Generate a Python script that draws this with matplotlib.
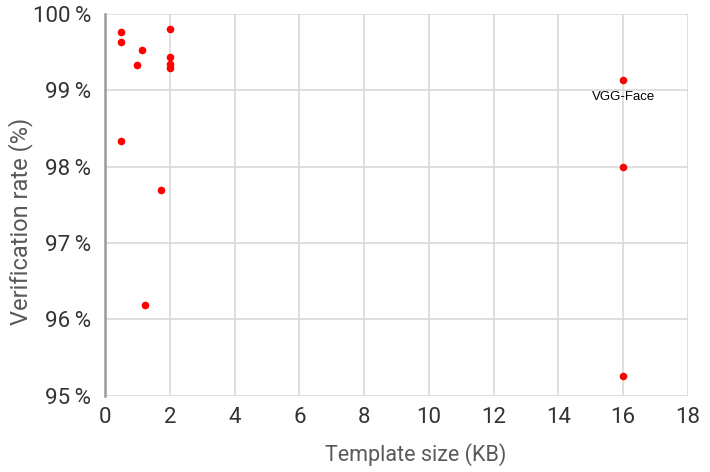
import matplotlib
matplotlib.use("Agg")
import matplotlib.pyplot as plt
from matplotlib.ticker import FuncFormatter

template_kb = [0.5, 0.5, 0.5, 1.0, 1.15, 2.0, 2.0, 2.0, 2.0, 1.73, 1.23, 16.0, 16.0, 16.0]
verification = [99.77, 99.63, 98.33, 99.33, 99.53, 99.80, 99.43, 99.35, 99.29, 97.69, 96.19, 99.13, 98.00, 95.26]
label_text = "VGG-Face"
label_point = (16.0, 99.13)
x_ticks = [0, 2, 4, 6, 8, 10, 12, 14, 16, 18]
y_ticks = [95, 96, 97, 98, 99, 100]

fig = plt.figure(figsize=(7.1, 4.72), dpi=100)
ax = fig.add_axes([105/710, 1-395.5/472, (688-105)/710, (395.5-14)/472])

ax.scatter(template_kb, verification, s=30, color="#ff0000", zorder=3, linewidths=0)
ax.annotate(label_text, xy=label_point, xytext=(0, -12), textcoords="offset points",
            ha="center", va="center", fontsize=9.5, family="Liberation Sans", color="#000000")

ax.set_xlim(0, 18)
ax.set_ylim(95, 100)
ax.set_xticks(x_ticks)
ax.set_yticks(y_ticks)
ax.yaxis.set_major_formatter(FuncFormatter(lambda v, p: f"{int(v)}\u2009%"))
ax.grid(True, color="#d9d9d9", linewidth=1.2, zorder=0)
ax.set_axisbelow(True)
for s in ["top", "right", "bottom"]:
    ax.spines[s].set_visible(False)
ax.spines["left"].set_color("#9a9a9a")
ax.spines["left"].set_linewidth(1.8)
ax.tick_params(length=0, labelsize=16, labelcolor="#333333")
ax.tick_params(axis="y", pad=10)
ax.tick_params(axis="x", pad=8)
for lab in ax.get_xticklabels() + ax.get_yticklabels():
    lab.set_family(["Roboto", "DejaVu Sans"])
ax.set_xlabel("Template size (KB)", fontsize=15.5, color="#595959", family="Roboto", va="baseline")
ax.set_ylabel("Verification rate (%)", fontsize=17, color="#595959", family="Roboto", va="center")
ax.xaxis.set_label_coords(0.533, -0.1717)
ax.yaxis.set_label_coords(-0.145, 0.457)

fig.savefig("out.png", dpi=100)
